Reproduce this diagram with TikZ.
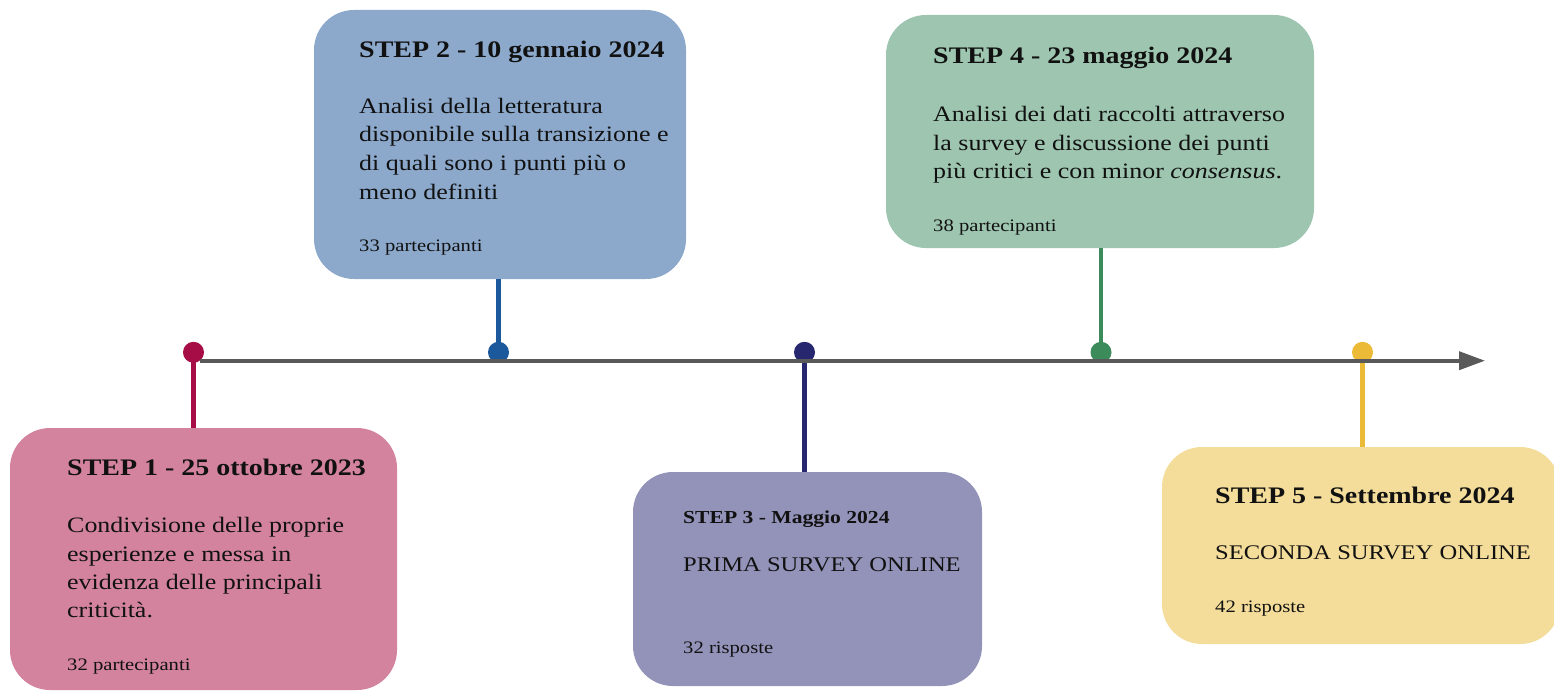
\documentclass[tikz,border=0pt]{standalone}
\usepackage{fontspec}
\setmainfont{Liberation Serif}[FakeStretch=1.18]
\usetikzlibrary{arrows.meta}
\definecolor{fillA}{HTML}{D4839F}\definecolor{dotA}{HTML}{A60D46}
\definecolor{fillB}{HTML}{8CA9CC}\definecolor{dotB}{HTML}{1B589C}
\definecolor{fillC}{HTML}{9393BA}\definecolor{dotC}{HTML}{27276F}
\definecolor{fillD}{HTML}{9DC5AF}\definecolor{dotD}{HTML}{3C8B5B}
\definecolor{fillE}{HTML}{F4DD9A}\definecolor{dotE}{HTML}{EBBA36}
\definecolor{axiscol}{HTML}{595959}
\definecolor{txtcol}{HTML}{111111}
\begin{document}
\begin{tikzpicture}[x=1pt,y=-1pt,
  stepbox/.style={rectangle, rounded corners=40pt, inner sep=0pt, draw=none},
  dotnode/.style={circle, inner sep=0pt, minimum size=21pt, draw=none},
  stem/.style={line width=4.2pt},
  axisline/.style={line width=3.8pt, draw=axiscol, -{Triangle[length=26pt,width=18pt]}},
  body/.style={anchor=base west, inner sep=0pt, text=txtcol, font=\fontsize{22}{28}\selectfont},
  ttl/.style={anchor=base west, inner sep=0pt, text=txtcol, font=\bfseries\fontsize{23.7}{28}\selectfont},
  ttlsmall/.style={anchor=base west, inner sep=0pt, text=txtcol, font=\bfseries\fontsize{18.3}{22}\selectfont},
  bodysv/.style={anchor=base west, inner sep=0pt, text=txtcol, font=\fontsize{20.8}{26}\selectfont},
  sml/.style={anchor=base west, inner sep=0pt, text=txtcol, font=\fontsize{17.5}{21}\selectfont}]
\useasboundingbox (0,0) rectangle (1554,693);
\clip (0,0) rectangle (1554,693);

% boxes
\node[stepbox, fill=fillA, minimum width=387pt, minimum height=262pt] (b1) at (203.5,559) {};
\node[stepbox, fill=fillB, minimum width=372pt, minimum height=269pt] (b2) at (500,144.5) {};
\node[stepbox, fill=fillC, minimum width=349pt, minimum height=214pt] (b3) at (807.5,579) {};
\node[stepbox, fill=fillD, minimum width=428pt, minimum height=233pt] (b4) at (1100,131.5) {};
\node[stepbox, fill=fillE, minimum width=398pt, minimum height=197pt] (b5) at (1361,545.5) {};

% dots
\node[dotnode, fill=dotA] (d1) at (193.5,352.3) {};
\node[dotnode, fill=dotB] (d2) at (498.5,352.3) {};
\node[dotnode, fill=dotC] (d3) at (804.5,352.3) {};
\node[dotnode, fill=dotD] (d4) at (1101,352.3) {};
\node[dotnode, fill=dotE] (d5) at (1362.5,352.3) {};

% stems
\draw[stem, dotA] (d1.center) -- (b1.north -| d1.center);
\draw[stem, dotB] (d2.center) -- (b2.south -| d2.center);
\draw[stem, dotC] (d3.center) -- (b3.north -| d3.center);
\draw[stem, dotD] (d4.center) -- (b4.south -| d4.center);
\draw[stem, dotE] (d5.center) -- (b5.north -| d5.center);

% axis
\coordinate (ax0) at (200,360.7);
\coordinate (ax1) at (1485,360.7);
\draw[axisline] (ax0) -- (ax1);

% box 1
\node[ttl] (t1) at (67,475) {STEP 1 - 25 ottobre 2023};
\node[body] (t1a) at (67,532.7) {Condivisione delle proprie};
\node[body] (t1b) at (67,561) {esperienze e messa in};
\node[body] (t1c) at (67,589.3) {evidenza delle principali};
\node[body] (t1d) at (67,617.6) {criticità.};
\node[sml] (t1e) at (67,670.7) {32 partecipanti};

% box 2
\node[ttl] (t2) at (359,57.3) {STEP 2 - 10 gennaio 2024};
\node[body] (t2a) at (359,113) {Analisi della letteratura};
\node[body] (t2b) at (359,141.7) {disponibile sulla transizione e};
\node[body] (t2c) at (359,170.4) {di quali sono i punti più o};
\node[body] (t2d) at (359,199) {meno definiti};
\node[sml] (t2e) at (359,251.7) {33 partecipanti};

% box 3
\node[ttlsmall] (t3) at (683,523.3) {STEP 3 - Maggio 2024};
\node[bodysv] (t3a) at (683,571.7) {PRIMA SURVEY ONLINE};
\node[sml] (t3e) at (683,653.3) {32 risposte};

% box 4
\node[ttl] (t4) at (933,63.3) {STEP 4 - 23 maggio 2024};
\node[body] (t4a) at (933,121.7) {Analisi dei dati raccolti attraverso};
\node[body] (t4b) at (933,150.2) {la survey e discussione dei punti};
\node[body] (t4c) at (933,178.7) {più critici e con minor \textit{consensus}.};
\node[sml] (t4e) at (933,231.7) {38 partecipanti};

% box 5
\node[ttl] (t5) at (1215,503.3) {STEP 5 - Settembre 2024};
\node[bodysv] (t5a) at (1215,559.3) {SECONDA SURVEY ONLINE};
\node[sml] (t5e) at (1215,612.7) {42 risposte};
\end{tikzpicture}
\end{document}
